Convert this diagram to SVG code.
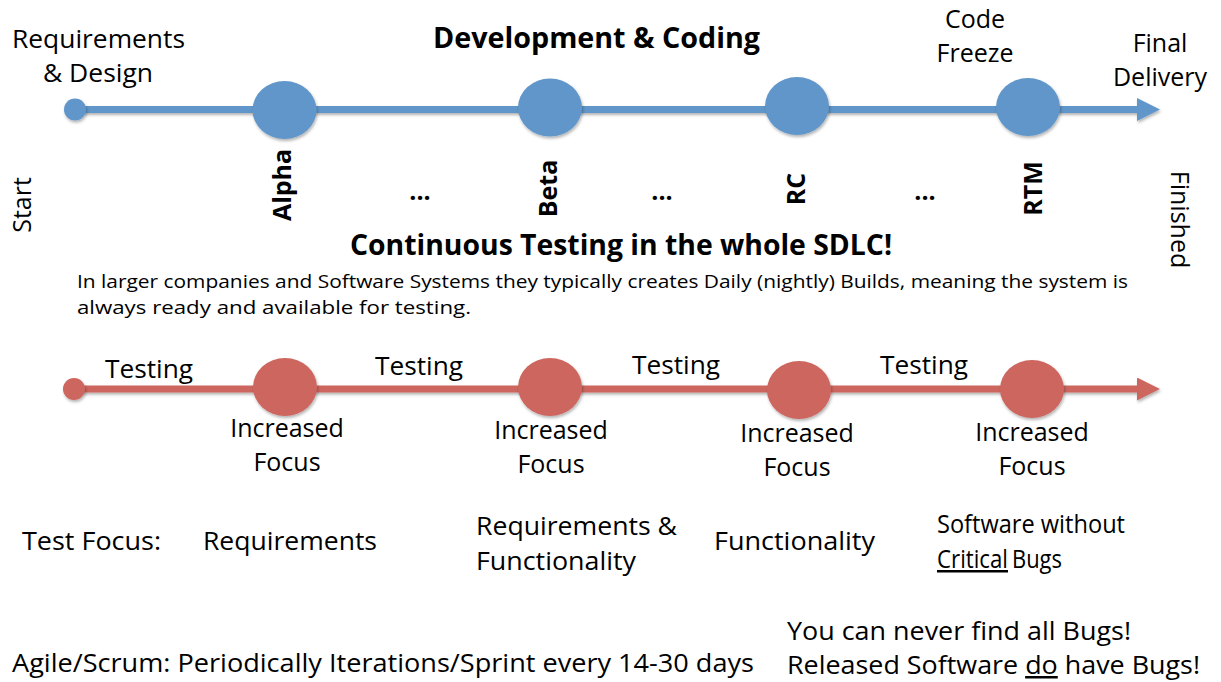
<svg xmlns="http://www.w3.org/2000/svg" width="1221" height="682" viewBox="0 0 1221 682">
<defs>
<style>
text{font-family:"Open Sans","Liberation Sans",sans-serif;fill:#000;}
.lbl{font-size:25px;}
.b{font-weight:bold;}
.para{font-size:18px;}
.mid{text-anchor:middle;}
.blue{fill:#6096C9;}
.red{fill:#CD665F;}
.bline{stroke:#6096C9;stroke-width:7;fill:none;}
.rline{stroke:#CD665F;stroke-width:7;fill:none;}
</style>
<filter id="sh" x="-20%" y="-20%" width="150%" height="150%">
<feDropShadow dx="1" dy="2" stdDeviation="1.5" flood-color="#000" flood-opacity="0.3"/>
</filter>
<filter id="shl" filterUnits="userSpaceOnUse" x="0" y="0" width="1221" height="682">
<feDropShadow dx="1" dy="2" stdDeviation="1.5" flood-color="#000" flood-opacity="0.3"/>
</filter>
<marker id="ab" markerUnits="userSpaceOnUse" markerWidth="24" markerHeight="24" refX="3" refY="11.5" orient="auto">
<path d="M0,0 L23,11.5 L0,23 Z" fill="#6096C9"/>
</marker>
<marker id="ar" markerUnits="userSpaceOnUse" markerWidth="24" markerHeight="24" refX="3" refY="11.5" orient="auto">
<path d="M0,0 L23,11.5 L0,23 Z" fill="#CD665F"/>
</marker>
</defs>
<rect width="1221" height="682" fill="#fff"/>

<g id="connectors">
<line class="bline" x1="75" y1="109.5" x2="1140" y2="109.5" marker-end="url(#ab)" filter="url(#shl)"/>
<line class="rline" x1="75" y1="389" x2="1140" y2="389" marker-end="url(#ar)" filter="url(#shl)"/>
</g>

<g id="start-dev">
<circle class="blue" cx="75" cy="109.5" r="11" filter="url(#sh)"/>
<text class="lbl" x="12" y="48" textLength="173" lengthAdjust="spacingAndGlyphs">Requirements</text>
<text class="lbl" x="43" y="82" textLength="110" lengthAdjust="spacingAndGlyphs">&amp; Design</text>
<text class="lbl" transform="translate(31,205) rotate(-90)" text-anchor="middle">Start</text>
</g>
<text id="dev-title" class="b" x="433" y="48" font-size="28" textLength="327" lengthAdjust="spacingAndGlyphs">Development &amp; Coding</text>

<g id="alpha">
<ellipse class="blue" cx="284.5" cy="110" rx="32" ry="29" filter="url(#sh)"/>
<text class="lbl b" transform="translate(291,185) rotate(-90)" text-anchor="middle">Alpha</text>
</g>
<text class="lbl b mid" x="420" y="200" font-size="22">...</text>
<g id="beta">
<ellipse class="blue" cx="550" cy="107.5" rx="32" ry="29" filter="url(#sh)"/>
<text class="lbl b" transform="translate(557,188.5) rotate(-90)" text-anchor="middle">Beta</text>
</g>
<text class="lbl b mid" x="662" y="200" font-size="22">...</text>
<g id="rc">
<ellipse class="blue" cx="797" cy="106" rx="32" ry="29" filter="url(#sh)"/>
<text class="lbl b" transform="translate(805,189) rotate(-90)" text-anchor="middle">RC</text>
</g>
<text class="lbl b mid" x="925" y="200" font-size="22">...</text>
<g id="rtm">
<ellipse class="blue" cx="1028" cy="107" rx="32" ry="29" filter="url(#sh)"/>
<text class="lbl b" transform="translate(1042,188.5) rotate(-90)" text-anchor="middle">RTM</text>
<text class="lbl mid" x="975" y="28">Code</text>
<text class="lbl mid" x="975" y="62">Freeze</text>
</g>
<g id="final">
<text class="lbl mid" x="1160" y="52">Final</text>
<text class="lbl mid" x="1160" y="86">Delivery</text>
<text class="lbl" transform="translate(1171,219.5) rotate(90)" text-anchor="middle">Finished</text>
</g>

<text id="ct-title" class="b" x="350" y="255" font-size="28" textLength="542" lengthAdjust="spacingAndGlyphs">Continuous Testing in the whole SDLC!</text>
<text class="para" x="77" y="288" textLength="1051" lengthAdjust="spacingAndGlyphs">In larger companies and Software Systems they typically creates Daily (nightly) Builds, meaning the system is</text>
<text class="para" x="77" y="314" textLength="394" lengthAdjust="spacingAndGlyphs">always ready and available for testing.</text>

<g id="test-start">
<circle class="red" cx="74" cy="389" r="11" filter="url(#sh)"/>
</g>
<text class="lbl" x="105" y="378" textLength="88" lengthAdjust="spacingAndGlyphs">Testing</text>
<text class="lbl" x="375" y="375" textLength="88" lengthAdjust="spacingAndGlyphs">Testing</text>
<text class="lbl" x="632" y="374" textLength="88" lengthAdjust="spacingAndGlyphs">Testing</text>
<text class="lbl" x="880" y="374" textLength="88" lengthAdjust="spacingAndGlyphs">Testing</text>

<g id="focus1">
<ellipse class="red" cx="285" cy="387" rx="32" ry="29" filter="url(#sh)"/>
<text class="lbl mid" x="287" y="437">Increased</text>
<text class="lbl mid" x="287" y="471">Focus</text>
</g>
<g id="focus2">
<ellipse class="red" cx="550" cy="387" rx="32" ry="29" filter="url(#sh)"/>
<text class="lbl mid" x="551" y="439">Increased</text>
<text class="lbl mid" x="551" y="473">Focus</text>
</g>
<g id="focus3">
<ellipse class="red" cx="799" cy="390" rx="32" ry="29" filter="url(#sh)"/>
<text class="lbl mid" x="797" y="442">Increased</text>
<text class="lbl mid" x="797" y="476">Focus</text>
</g>
<g id="focus4">
<ellipse class="red" cx="1032" cy="389" rx="32" ry="29" filter="url(#sh)"/>
<text class="lbl mid" x="1032" y="441">Increased</text>
<text class="lbl mid" x="1032" y="475">Focus</text>
</g>

<g id="test-focus">
<text class="lbl" x="22" y="550" textLength="139" lengthAdjust="spacingAndGlyphs">Test Focus:</text>
<text class="lbl" x="203" y="550" textLength="174" lengthAdjust="spacingAndGlyphs">Requirements</text>
<text class="lbl" x="476" y="535" textLength="201" lengthAdjust="spacingAndGlyphs">Requirements &amp;</text>
<text class="lbl" x="476" y="570" textLength="160" lengthAdjust="spacingAndGlyphs">Functionality</text>
<text class="lbl" x="714" y="550" textLength="161" lengthAdjust="spacingAndGlyphs">Functionality</text>
<text class="lbl" x="937" y="533" textLength="188" lengthAdjust="spacingAndGlyphs">Software without</text>
<text class="lbl" x="937" y="568" textLength="71" lengthAdjust="spacingAndGlyphs" text-decoration="underline">Critical</text>
<text class="lbl" x="1012" y="568" textLength="50" lengthAdjust="spacingAndGlyphs">Bugs</text>
</g>

<g id="notes">
<text class="lbl" x="12" y="672" textLength="742" lengthAdjust="spacingAndGlyphs">Agile/Scrum: Periodically Iterations/Sprint every 14-30 days</text>
<text class="lbl" x="787" y="640" textLength="344" lengthAdjust="spacingAndGlyphs">You can never find all Bugs!</text>
<text class="lbl" x="787" y="674" textLength="413" lengthAdjust="spacingAndGlyphs">Released Software <tspan text-decoration="underline">do</tspan> have Bugs!</text>
</g>
</svg>
